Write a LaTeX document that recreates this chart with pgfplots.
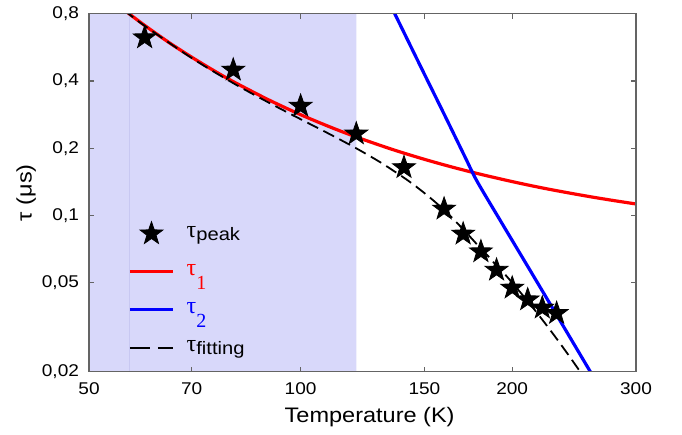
\documentclass[border=0pt]{standalone}
\usepackage{pgfplots}
\pgfplotsset{compat=1.18}
\usepackage{fontspec}
\setmainfont{Liberation Sans}[FakeStretch=1.12]
\newfontfamily\serif{Liberation Serif}
\definecolor{shade}{RGB}{216,216,250}
\definecolor{shadeline}{RGB}{200,200,242}
\definecolor{axgray}{RGB}{100,100,100}
\pgfdeclareplotmark{fstar}{%
  \pgfpathmoveto{\pgfpointpolar{90}{\pgfplotmarksize}}%
  \pgfpathlineto{\pgfpointpolar{126}{0.40\pgfplotmarksize}}%
  \pgfpathlineto{\pgfpointpolar{162}{\pgfplotmarksize}}%
  \pgfpathlineto{\pgfpointpolar{198}{0.40\pgfplotmarksize}}%
  \pgfpathlineto{\pgfpointpolar{234}{\pgfplotmarksize}}%
  \pgfpathlineto{\pgfpointpolar{270}{0.40\pgfplotmarksize}}%
  \pgfpathlineto{\pgfpointpolar{306}{\pgfplotmarksize}}%
  \pgfpathlineto{\pgfpointpolar{342}{0.40\pgfplotmarksize}}%
  \pgfpathlineto{\pgfpointpolar{18}{\pgfplotmarksize}}%
  \pgfpathlineto{\pgfpointpolar{54}{0.40\pgfplotmarksize}}%
  \pgfpathclose
  \pgfusepathqfillstroke
}
\begin{document}
\begin{tikzpicture}
\begin{axis}[
  name=ax,
  scale only axis,
  width=273.5pt, height=179pt,
  xmode=log, ymode=log,
  xmin=50, xmax=300, ymin=0.02, ymax=0.8,
  xtick={50,70,100,150,200,300},
  xticklabels={50,70,100,150,200,300},
  ytick={0.02,0.05,0.1,0.2,0.4,0.8},
  yticklabels={{0,02},{0,05},{0,1},{0,2},{0,4},{0,8}},
  minor xtick={}, minor ytick={},
  tick align=inside,
  major tick length=2.5pt,
  axis line style={axgray, line width=0.8pt},
  every tick/.style={axgray, line width=0.6pt},
  ticklabel style={font=\fontsize{8.5}{10}\selectfont},
  xticklabel style={yshift=-2pt},
  yticklabel style={xshift=-1.5pt},
  xlabel={Temperature (K)},
  ylabel={τ (μs)},
  xlabel style={font=\fontsize{10.5}{12}\selectfont, at={(axis description cs:0.513,-0.1425)}, anchor=base},
  ylabel style={font=\fontsize{10.5}{12}\selectfont, at={(axis description cs:-0.115,0.5)}, anchor=center},
  axis on top,
  clip=true,
  legend image code/.code={\draw[#1, mark repeat=2, mark phase=2] plot coordinates {(0cm,0cm) (0.38cm,0cm) (0.76cm,0cm)};},
  legend style={at={(axis description cs:0.071,0.42)}, anchor=north west, draw=none, fill=none,
    inner sep=0pt, row sep=8pt, font=\fontsize{9}{10}\selectfont},
  legend cell align=left,
]
\addplot [draw=none, fill=shade, forget plot] coordinates {(50,0.02) (120,0.02) (120,0.8) (50,0.8)} \closedcycle;
\addplot [shadeline, line width=0.5pt, forget plot] coordinates {(57,0.02) (57,0.8)};

\addplot [only marks, mark=fstar, mark size=6pt, black] coordinates {
 (60.0,0.625) (80.2,0.448) (100,0.309) (120,0.232) (140.3,0.164) (160,0.107)
 (170.3,0.0827) (180.5,0.0689) (190,0.057) (200,0.0474) (210.4,0.042) (220.7,0.0386) (231.3,0.0365)};
\addlegendentry{\hspace*{4pt}{\serif\fontsize{12}{13}\selectfont τ}\raisebox{-1.5pt}{peak}}

\addplot [red, line width=1.6pt, smooth] coordinates {
 (56,0.835) (57,0.800) (60,0.709) (65,0.594) (70,0.511) (75,0.448) (80,0.399) (90,0.3295)
 (100,0.2826) (110,0.2493) (120,0.2245) (135,0.1976) (150,0.1784) (165,0.1641) (180,0.1531)
 (200,0.1418) (220,0.1331) (240,0.1264) (260,0.1209) (280,0.1164) (300,0.1126)};
\addlegendentry{\hspace*{4pt}\color{red}{\serif\fontsize{12}{13}\selectfont τ}\raisebox{-7pt}{\serif\fontsize{10}{11}\selectfont 1}}

\addplot [blue, line width=1.6pt, smooth] coordinates {
 (134.0,0.886) (136.2,0.797) (147.8,0.4716) (160.5,0.2788) (171.3,0.1831) (178.2,0.1425)
 (192.1,0.0956) (212.0,0.0569) (233.9,0.03385) (258.8,0.0198) (261,0.0190)};
\addlegendentry{\hspace*{4pt}\color{blue}{\serif\fontsize{12}{13}\selectfont τ}\raisebox{-7pt}{\serif\fontsize{10}{11}\selectfont 2}}

\addplot [black, line width=0.9pt, dash pattern=on 6pt off 3pt, smooth,
  legend image code/.code={\draw[black, line width=0.9pt, dash pattern=on 10pt off 4pt] (0cm,0cm) -- (0.76cm,0cm);}] coordinates {
 (56,0.832) (57,0.797) (60,0.7059) (70,0.5066) (80,0.3928) (90,0.3205) (100,0.2697)
 (110,0.2312) (120,0.1998) (130,0.1726) (140,0.1482) (145,0.1369) (150,0.1260) (155,0.1157)
 (160,0.1058) (165,0.0963) (170,0.0872) (175,0.0791) (180,0.0717) (185,0.0656) (190,0.0596)
 (195,0.0548) (200,0.0500) (210,0.04165) (220,0.03462) (230,0.02878) (240,0.02394)
 (250,0.01995) (252,0.01924)};
\addlegendentry{\hspace*{4pt}{\serif\fontsize{12}{13}\selectfont τ}\raisebox{-1.5pt}{fitting}}
\end{axis}
\path ([shift={(-44.5pt,-31.5pt)}]ax.south west) rectangle ([shift={(23pt,6.5pt)}]ax.north east);
\end{tikzpicture}
\end{document}
